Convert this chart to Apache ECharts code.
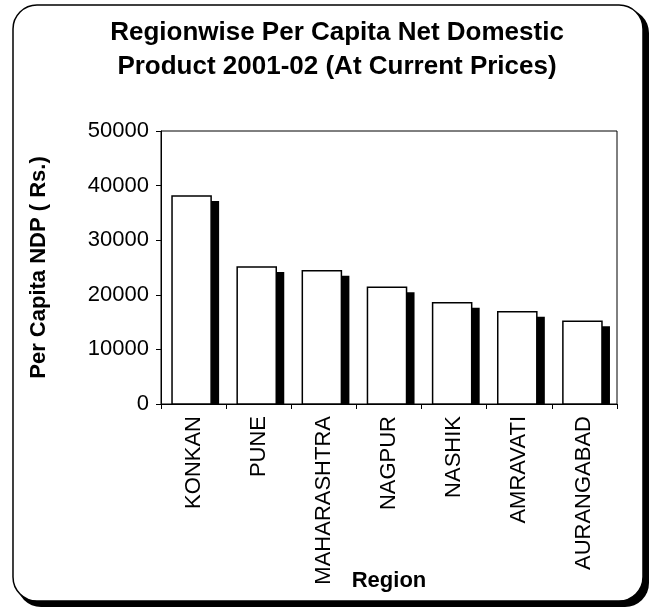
<!DOCTYPE html>
<html>
<head>
<meta charset="utf-8">
<script src="https://cdn.jsdelivr.net/npm/echarts@6/dist/echarts.min.js"></script>
<style>html,body{margin:0;padding:0;background:#fff;}#c{width:651px;height:610px;}</style>
</head>
<body>
<div id="c"></div>
<script>
const regions = ['KONKAN', 'PUNE', 'MAHARASHTRA', 'NAGPUR', 'NASHIK', 'AMRAVATI', 'AURANGABAD'];
const perCapitaNDP = [38100, 25100, 24400, 21400, 18550, 16900, 15150];
const yTicks = [0, 10000, 20000, 30000, 40000, 50000];
const titleLines = ['Regionwise Per Capita Net Domestic', 'Product 2001-02 (At Current Prices)'];

const chart = echarts.init(document.getElementById('c'), null, {renderer: 'canvas'});
const FONT = '"Liberation Sans", Arial, Helvetica, sans-serif';

chart.setOption({
  backgroundColor: '#fff',
  animation: false,
  graphic: [
    {
      type: 'rect', z: -11, silent: true,
      shape: {x: 17, y: 9, width: 632, height: 598, r: 24},
      style: {fill: '#000'}
    },
    {
      type: 'rect', z: -10, silent: true,
      shape: {x: 13, y: 5, width: 630, height: 596, r: 24},
      style: {fill: '#fff', stroke: '#000', lineWidth: 1.5}
    },
    {
      type: 'text', z: 10, silent: true,
      style: {
        text: titleLines.join('\n'), x: 337, y: 16,
        align: 'center', verticalAlign: 'top',
        font: 'bold 26px ' + FONT, lineHeight: 34, fill: '#000'
      }
    }
  ],
  grid: {left: 161, right: 34, top: 131, bottom: 206, show: true, borderColor: '#000', borderWidth: 1, backgroundColor: 'transparent'},
  xAxis: {
    type: 'category', data: regions,
    name: 'Region', nameLocation: 'middle', nameGap: 166, nameMoveOverlap: false,
    nameTextStyle: {fontFamily: FONT, fontSize: 22, fontWeight: 'bold', color: '#000'},
    axisLine: {lineStyle: {color: '#000', width: 1}},
    axisTick: {show: true, alignWithLabel: false, length: 5, lineStyle: {color: '#000'}},
    axisLabel: {rotate: 90, margin: 12, fontFamily: FONT, fontSize: 22, color: '#000', interval: 0}
  },
  yAxis: {
    type: 'value', min: yTicks[0], max: yTicks[yTicks.length - 1], interval: 10000,
    name: 'Per Capita NDP ( Rs.)', nameLocation: 'middle', nameGap: 111, nameRotate: 90, nameMoveOverlap: false,
    nameTextStyle: {fontFamily: FONT, fontSize: 22, fontWeight: 'bold', color: '#000'},
    axisLine: {show: true, lineStyle: {color: '#000', width: 1}},
    axisTick: {show: true, length: 5, lineStyle: {color: '#000'}},
    splitLine: {show: false},
    axisLabel: {margin: 12, fontFamily: FONT, fontSize: 22, color: '#000', formatter: v => String(v)}
  },
  series: [{
    type: 'custom',
    data: regions.map((r, i) => [i, perCapitaNDP[i]]),
    encode: {x: 0, y: 1},
    renderItem: function (params, api) {
      const top = api.coord([api.value(0), api.value(1)]);
      const base = api.coord([api.value(0), 0]);
      const catW = api.size([1, 0])[0];
      const bw = catW * 0.6;
      const left = top[0] - bw / 2 - 2;
      const h = base[1] - top[1];
      return {
        type: 'group',
        children: [
          {type: 'rect', shape: {x: left + 8, y: top[1] + 5, width: bw, height: h - 5}, style: {fill: '#000'}},
          {type: 'rect', shape: {x: left, y: top[1], width: bw, height: h}, style: {fill: '#fff', stroke: '#000', lineWidth: 1.5}}
        ]
      };
    }
  }]
});
</script>
</body>
</html>
